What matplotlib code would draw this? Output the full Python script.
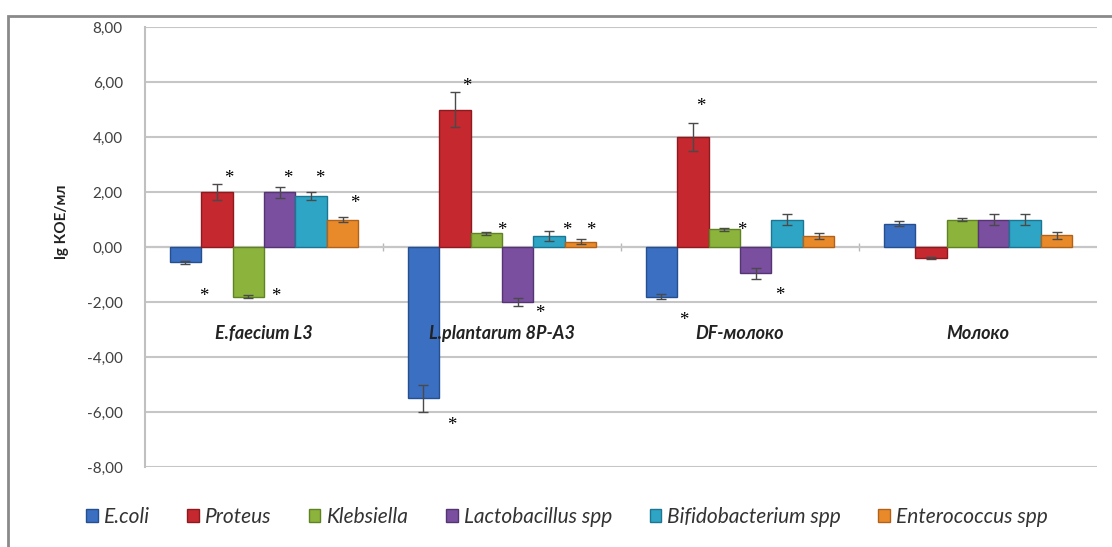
import numpy as np
import matplotlib
matplotlib.use("Agg")
import matplotlib.pyplot as plt
from matplotlib.patches import Rectangle

# lg КОЕ/мл по группам
groups = ["E.faecium L3", "L.plantarum 8P-A3", "DF-молоко", "Молоко"]
species = ["E.coli", "Proteus", "Klebsiella", "Lactobacillus spp",
           "Bifidobacterium spp", "Enterococcus spp"]
colors = ["#3b6fc1", "#c5282f", "#8cb43c", "#7a4f9f", "#2fa5c6", "#e98a2a"]
edges = ["#24508f", "#8e1a1f", "#5f8224", "#543572", "#1c7691", "#b0621a"]

ecoli = [-0.55, -5.5, -1.8, 0.85]
proteus = [2.0, 5.0, 4.0, -0.4]
klebsiella = [-1.8, 0.5, 0.65, 1.0]
lacto = [2.0, -2.0, -0.95, 1.0]
bifido = [1.85, 0.4, 1.0, 1.0]
entero = [1.0, 0.2, 0.4, 0.42]

ecoli_err = [0.05, 0.5, 0.1, 0.08]
proteus_err = [0.3, 0.65, 0.5, 0.03]
klebsiella_err = [0.07, 0.05, 0.05, 0.05]
lacto_err = [0.2, 0.15, 0.2, 0.2]
bifido_err = [0.15, 0.18, 0.2, 0.2]
entero_err = [0.1, 0.1, 0.12, 0.12]

values = [ecoli, proteus, klebsiella, lacto, bifido, entero]
errors = [ecoli_err, proteus_err, klebsiella_err, lacto_err, bifido_err, entero_err]

# звёздочки: (группа, вид, сдвиг по x, уровень по y)
stars = [
    (0, 0, 0.075, -1.67), (0, 1, 0.05, 2.62), (0, 2, 0.117, -1.67),
    (0, 3, 0.034, 2.62), (0, 4, 0.038, 2.62), (0, 5, 0.05, 1.71),
    (1, 0, 0.117, -6.36), (1, 1, 0.05, 5.96), (1, 2, 0.067, 0.73),
    (1, 3, 0.092, -2.3), (1, 4, 0.075, 0.73), (1, 5, 0.042, 0.73),
    (2, 0, 0.092, -2.55), (2, 1, 0.034, 5.24), (2, 2, 0.075, 0.73),
    (2, 3, 0.10, -1.64),
]

yticks = np.arange(-8, 9, 2)

W, H = 1112, 547
fig = plt.figure(figsize=(W / 100, H / 100), dpi=100)
plt.rcParams['font.family'] = ['Lato', 'DejaVu Sans']

# рамка вокруг диаграммы
fig.patches.append(Rectangle((8 / W, -0.05), 1.1, (H - 16) / H + 0.05,
                             transform=fig.transFigure, fill=False,
                             edgecolor="#8a8a8a", linewidth=2.0))

ax = fig.add_axes([145 / W, 80 / H, 952 / W, 440 / H])

x = np.arange(len(groups))
bw = 0.132
for i, (vals, errs) in enumerate(zip(values, errors)):
    pos = x + (i - 2.5) * bw
    ax.bar(pos, vals, width=bw, color=colors[i], edgecolor=edges[i],
           linewidth=1.0, label=species[i], zorder=3)
    ax.errorbar(pos, vals, yerr=errs, fmt="none", ecolor="#4a4a4a",
                elinewidth=1.0, capsize=3.5, capthick=1.0, zorder=4)

for g, s, dx, yv in stars:
    ax.annotate("*", (x[g] + (s - 2.5) * bw + dx, yv), xytext=(0, -5.5),
                textcoords="offset points", ha="center", va="baseline",
                fontsize=13.5, family="Liberation Serif", color="black", zorder=6)

# подписи групп поверх столбцов
for xi, name in zip(x, groups):
    ax.text(xi, -3.15, name, ha="center", va="center", fontsize=13,
            fontweight="bold", fontstyle="italic", color="#222222", zorder=5)

ax.set_xlim(-0.5, len(groups) - 0.5)
ax.set_ylim(-8, 8)
ax.set_yticks(yticks)
ax.set_yticklabels([f"{v:.2f}".replace(".", ",") for v in yticks],
                   fontsize=11, color="#404040")
ax.set_xticks([])
ax.tick_params(axis="y", length=0, pad=16)
ax.grid(axis="y", color="#c6c6c6", linewidth=1.5, zorder=0)
for side in ["top", "right", "bottom"]:
    ax.spines[side].set_visible(False)
ax.spines["left"].set_color("#c0c0c0")
ax.spines["left"].set_linewidth(1.5)
ax.axhline(0, color="#b8b8b8", linewidth=1.5, zorder=1)
ax.plot(x[:-1] + 0.5, np.zeros(len(groups) - 1), "|", color="#b8b8b8",
        markersize=6, zorder=1)

fig.text(62 / W, 1 - 222 / H, "lg КОЕ/мл", rotation=90, ha="center",
         va="center", fontsize=11, fontweight="bold", color="#222222")

leg = fig.legend(*ax.get_legend_handles_labels(), loc="center",
                 bbox_to_anchor=(567 / W, 1 - 517 / H), ncol=6,
                 frameon=False, handlelength=0.55, handleheight=0.55,
                 handletextpad=0.3, columnspacing=1.8,
                 prop={"size": 15, "style": "italic"})
for t in leg.get_texts():
    t.set_color("#333333")

fig.savefig("out.png", dpi=100)
